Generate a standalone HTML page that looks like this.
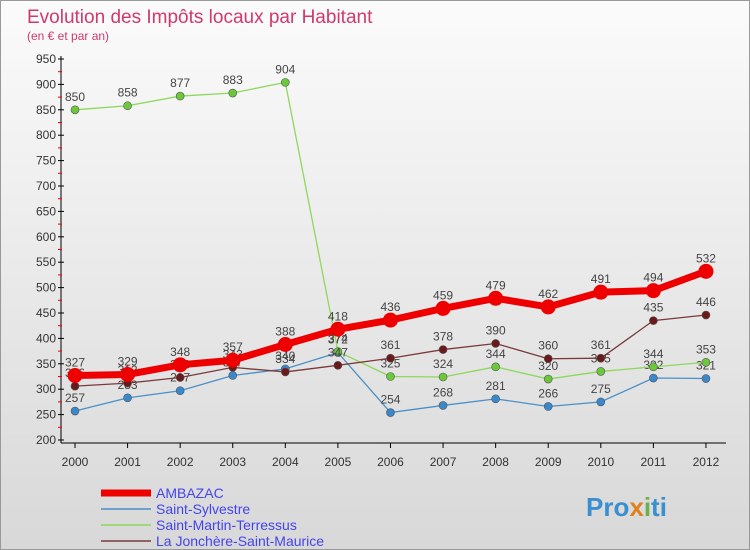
<!DOCTYPE html>
<html><head><meta charset="utf-8"><style>
body{margin:0;width:750px;height:550px;overflow:hidden;font-family:"Liberation Sans",sans-serif}
#wrap{position:relative;width:748px;height:548px;border:1px solid #999;background:linear-gradient(#fbfbfb,#d8d8d8)}
</style></head><body>
<div id="wrap">
<svg id="c" width="748" height="548" style="position:absolute;left:0;top:0">
<text x="26" y="22" font-size="19" fill="#d03a6a">Evolution des Impôts locaux par Habitant</text>
<text x="26" y="39" font-size="12" fill="#d03a6a">(en € et par an)</text>
<text x="585" y="515" font-size="26" font-weight="bold" fill="#3a8fd0">Pro<tspan fill="#e08020">x</tspan><tspan fill="#6ab04c">i</tspan>ti</text>
</svg>
</div>
<script>
const years=[2000,2001,2002,2003,2004,2005,2006,2007,2008,2009,2010,2011,2012];
const yTicks=[200,250,300,350,400,450,500,550,600,650,700,750,800,850,900,950];
const seriesNames=["AMBAZAC","Saint-Sylvestre","Saint-Martin-Terressus","La Jonchère-Saint-Maurice"];
const ambazac=[327,329,348,357,388,418,436,459,479,462,491,494,532];
const sylvestre=[257,283,297,327,340,372,254,268,281,266,275,322,321];
const martin=[850,858,877,883,904,374,325,324,344,320,335,344,353];
const jonchere=[306,312,323,343,334,347,361,378,390,360,361,435,446];
const NS="http://www.w3.org/2000/svg",svg=document.getElementById('c');
const X=i=>74+i*52.58, Y=v=>439-(v-200)*0.508;
function mk(t,a,p){const e=document.createElementNS(NS,t);for(const k in a)e.setAttribute(k,a[k]);(p||svg).appendChild(e);return e;}
let ax=mk('line',{x1:60,y1:55,x2:60,y2:442,stroke:'#000'});

let bx=mk('line',{x1:60,y1:442,x2:725,y2:442,stroke:'#000'});

yTicks.forEach(v=>{mk('line',{x1:57,y1:Y(v),x2:63,y2:Y(v),stroke:'#000'});
 if(v<950)mk('line',{x1:57,y1:Y(v+25),x2:61,y2:Y(v+25),stroke:'#e00'});
 const t=mk('text',{x:55,y:Y(v)+4,'font-size':12,fill:'#333','text-anchor':'end'});t.textContent=v;
 });
years.forEach((y,i)=>{mk('line',{x1:X(i),y1:442,x2:X(i),y2:447,stroke:'#000'});
 const t=mk('text',{x:X(i),y:465,'font-size':12,fill:'#333','text-anchor':'middle'});t.textContent=y;
 });
const defs=[[sylvestre,'#4a90c8','#3a88cc',1.3,4,'saint-sylvestre'],[martin,'#8ed85a','#6ac83a',1.3,4,'saint-martin-terressus'],[jonchere,'#7a3a3a','#6a1a1a',1.3,4,'la-jonchere'],[ambazac,'#ee0000','#ee0000',7,7.5,'ambazac']];
defs.forEach(([d,lc,pc,w,r,n])=>{
 const g=mk('g',{});
 const p=mk('polyline',{points:d.map((v,i)=>X(i)+','+Y(v)).join(' '),fill:'none',stroke:lc,'stroke-width':w},g);
 
 d.forEach((v,i)=>{const c=mk('circle',{cx:X(i),cy:Y(v),r:r,fill:pc,stroke:w>2?'none':'#555','stroke-width':0.6},g);
  
  const t=mk('text',{x:X(i),y:Y(v)-9,'font-size':12,fill:'#444','text-anchor':'middle'},g);t.textContent=v;
  });
});
const lc=['#ee0000','#4a90c8','#8ed85a','#7a3a3a'],lw=[7,1.5,1.5,1.5];
seriesNames.forEach((n,i)=>{const g=mk('g',{});
 mk('line',{x1:100,y1:492+i*16,x2:150,y2:492+i*16,stroke:lc[i],'stroke-width':lw[i]},g);
 const t=mk('text',{x:155,y:497+i*16,'font-size':14,fill:'#4444ee'},g);t.textContent=n;});
</script>
</body></html>
